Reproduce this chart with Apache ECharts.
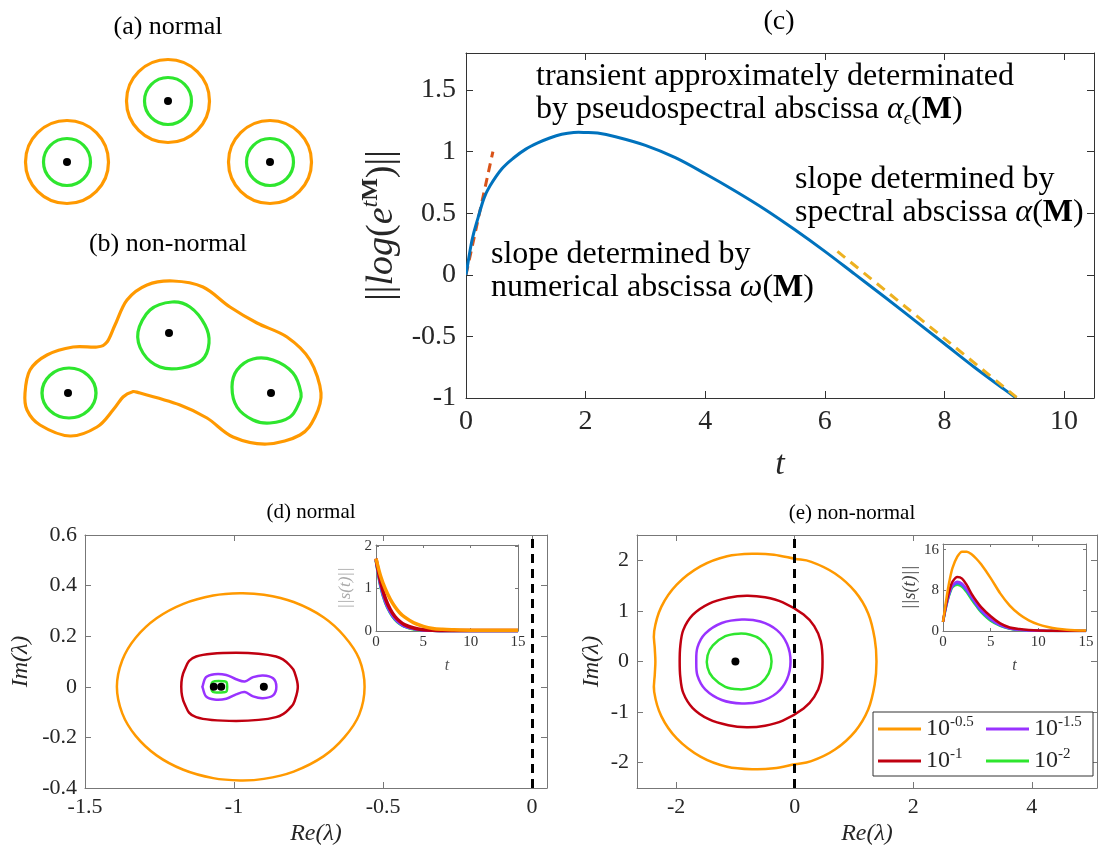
<!DOCTYPE html>
<html>
<head>
<meta charset="utf-8" />
<title>pseudospectra</title>
<script src="https://cdn.jsdelivr.net/npm/echarts@6/dist/echarts.min.js"></script>
<style>
  html, body { margin: 0; padding: 0; background: #fff; }
  #main { width: 1099px; height: 849px; }
</style>
</head>
<body>
<div id="main"></div>
<script>
// ---------- data ----------
// (a)/(b) schematic, in the sketch's own frame (x right, y down)
const aCenters = [[168, 101], [67, 162], [270, 162]];
const bOrange = [[25,393],[30,370],[47,355],[73,347],[97,347],[107,342],[115,325],[127,300],[147,285],[173,281],[203,287],[230,307],[257,323],[287,337],[310,360],[321,393],[315,417],[300,435],[267,444],[233,437],[207,418],[180,405],[140,393],[132,392],[123,397],[113,410],[97,427],[70,436],[40,425],[27,410]];
const bGreenTop = [[209,343],[205,325],[190,307],[172,302],[150,310],[138,332],[143,353],[160,367],[182,368],[202,360]];
const bGreenRight = [[301,393],[293,373],[273,360],[253,359],[237,370],[232,387],[237,407],[253,420],[270,423],[290,417],[299,403]];
const bGreenLeft = [[69, 393]];
const bDots = [[169, 333], [68, 393], [271, 393]];

// (c) norm of the propagator
const cT = [0,0.1,0.2,0.3,0.4,0.6,0.8,1.0,1.2,1.4,1.6,1.8,2.0,2.2,2.5,3.0,3.5,4.0,4.5,5.0,5.5,6.0,6.5,7.0,7.5,8.0,8.5,9.0,9.2];
const cNorm = [0,0.28,0.46,0.62,0.72,0.86,0.95,1.02,1.07,1.11,1.14,1.155,1.155,1.15,1.12,1.05,0.95,0.82,0.68,0.53,0.365,0.19,0.005,-0.18,-0.37,-0.56,-0.75,-0.93,-1.0];
const cRedT = [0, 0.45];
const cRedY = [0, 1.0];
const cYelT = [6.21, 9.22];
const cYelY = [0.19, -1.0];
const cXTicks = [0, 2, 4, 6, 8, 10];
const cYTicks = [-1, -0.5, 0, 0.5, 1, 1.5];

// (d) normal: pseudospectra contours
const dOrange = [[-0.562,0],[-0.58,0.11],[-0.63,0.20],[-0.70,0.275],[-0.80,0.335],[-0.90,0.364],[-0.98,0.37],[-1.07,0.361],[-1.17,0.328],[-1.26,0.271],[-1.33,0.194],[-1.375,0.105],[-1.393,0],[-1.375,-0.105],[-1.33,-0.194],[-1.26,-0.271],[-1.17,-0.328],[-1.07,-0.361],[-0.98,-0.37],[-0.90,-0.364],[-0.80,-0.335],[-0.70,-0.275],[-0.63,-0.20],[-0.58,-0.11]];
const dRed = [[-0.786,0],[-0.795,0.05],[-0.809,0.08],[-0.859,0.12],[-0.993,0.135],[-1.127,0.12],[-1.166,0.067],[-1.177,0],[-1.166,-0.067],[-1.127,-0.12],[-0.993,-0.135],[-0.859,-0.12],[-0.809,-0.08],[-0.795,-0.05]];
const dPurple = [[-0.858,0],[-0.869,0.034],[-0.903,0.045],[-0.936,0.038],[-0.964,0.021],[-0.993,0.03],[-1.026,0.047],[-1.066,0.05],[-1.094,0.038],[-1.105,0.004],[-1.105,-0.004],[-1.094,-0.038],[-1.066,-0.05],[-1.026,-0.047],[-0.993,-0.03],[-0.964,-0.021],[-0.936,-0.038],[-0.903,-0.045],[-0.869,-0.034]];
const dGreen = [[-1.023,0],[-1.025,0.018],[-1.035,0.022],[-1.065,0.022],[-1.074,0.016],[-1.076,0],[-1.074,-0.016],[-1.065,-0.022],[-1.035,-0.022],[-1.025,-0.018]];
const dEigs = [[-1.068,0],[-1.043,0],[-0.90,0]];
const dXTicks = [-1.5, -1, -0.5, 0];
const dYTicks = [-0.4, -0.2, 0, 0.2, 0.4, 0.6];

// (d) inset ||s(t)||
const dInT = [0,0.5,1,1.5,2,2.5,3,4,5,6,7,8,10,12,15];
const dInOrange = [1.70,1.28,0.98,0.75,0.57,0.43,0.33,0.19,0.11,0.06,0.04,0.03,0.02,0.02,0.02];
const dInRed = [1.70,1.14,0.76,0.51,0.34,0.23,0.15,0.07,0.03,0.015,0.01,0.01,0.01,0.01,0.01];
const dInPurple = [1.68,1.08,0.70,0.46,0.30,0.19,0.12,0.05,0.02,0.01,0,0,0,0,0];
const dInBlue = [1.66,1.05,0.67,0.44,0.28,0.18,0.11,0.05,0.02,0.01,0,0,0,0,0];
const dInGreen = [1.65,1.03,0.66,0.43,0.27,0.17,0.11,0.04,0.02,0.01,0,0,0,0,0];
const dInXTicks = [0, 5, 10, 15];
const dInYTicks = [0, 1, 2];

// (e) non-normal: pseudospectra contours
const eOrange = [[1.38,0],[1.35,0.45],[1.24,0.95],[1.02,1.38],[0.68,1.74],[0.28,1.97],[0,2.03],[-0.35,2.11],[-0.69,2.13],[-1.14,2.08],[-1.59,1.88],[-1.99,1.52],[-2.25,1.08],[-2.37,0.6],[-2.36,0.26],[-2.35,0],[-2.36,-0.26],[-2.37,-0.6],[-2.25,-1.08],[-1.99,-1.52],[-1.59,-1.88],[-1.14,-2.08],[-0.69,-2.13],[-0.35,-2.11],[0,-2.03],[0.28,-1.97],[0.68,-1.74],[1.02,-1.38],[1.24,-0.95],[1.35,-0.45]];
const eRed = [[0.47,0],[0.44,0.40],[0.33,0.70],[0.15,0.93],[-0.20,1.17],[-0.50,1.27],[-0.81,1.30],[-1.12,1.26],[-1.45,1.14],[-1.72,0.92],[-1.88,0.62],[-1.93,0.30],[-1.94,0],[-1.93,-0.30],[-1.88,-0.62],[-1.72,-0.92],[-1.45,-1.14],[-1.12,-1.26],[-0.81,-1.30],[-0.50,-1.27],[-0.20,-1.17],[0.15,-0.93],[0.33,-0.70],[0.44,-0.40]];
const ePurple = [[-0.07,0],[-0.13,0.35],[-0.30,0.62],[-0.58,0.79],[-0.89,0.83],[-1.23,0.76],[-1.51,0.55],[-1.64,0.28],[-1.66,0],[-1.64,-0.28],[-1.51,-0.55],[-1.23,-0.76],[-0.89,-0.83],[-0.58,-0.79],[-0.30,-0.62],[-0.13,-0.35]];
const eGreen = [[-0.39,0],[-0.44,0.24],[-0.58,0.44],[-0.75,0.53],[-0.95,0.55],[-1.17,0.50],[-1.38,0.32],[-1.47,0.12],[-1.47,-0.12],[-1.38,-0.32],[-1.17,-0.50],[-0.95,-0.55],[-0.75,-0.53],[-0.58,-0.44],[-0.44,-0.24]];
const eEigs = [[-1.0, 0]];
const eXTicks = [-2, 0, 2, 4];
const eYTicks = [-2, -1, 0, 1, 2];

// (e) inset ||s(t)||
const eInT = [0,0.25,0.5,0.75,1,1.5,2,2.5,3,3.5,4,5,6,7,8,9,10,11,12,13,15];
const eInOrange = [1.8,5.0,8.0,10.5,12.4,14.6,15.6,15.6,15.1,14.2,13.1,10.4,7.4,5.0,3.3,2.1,1.3,0.8,0.45,0.25,0.08];
const eInRed = [1.8,4.5,6.8,8.5,9.7,10.6,10.3,9.0,7.3,5.9,4.7,2.9,1.5,0.7,0.4,0.2,0.08,0.04,0.02,0.01,0];
const eInPurple = [1.8,4.3,6.4,8.0,9.0,9.7,9.3,8.2,6.8,5.4,4.2,2.4,1.2,0.55,0.25,0.1,0.05,0.02,0,0,0];
const eInBlue = [1.8,4.2,6.2,7.8,8.8,9.4,9.0,7.9,6.5,5.1,3.9,2.2,1.1,0.5,0.22,0.09,0.04,0.02,0,0,0];
const eInGreen = [1.8,4.1,6.1,7.6,8.6,9.1,8.7,7.6,6.2,4.9,3.7,2.0,1.0,0.45,0.2,0.08,0.03,0.01,0,0,0];
const eInXTicks = [0, 5, 10, 15];
const eInYTicks = [0, 8, 16];

const epsNames = ['10^-0.5', '10^-1', '10^-1.5', '10^-2'];

// ---------- styling ----------
const FONT = 'Liberation Serif';
const ORANGE = '#FF9900', RED = '#C00010', PURPLE = '#9933FF', GREEN = '#2EE62E', BLUE = '#3366FF';

function pairs(xs, ys) { return xs.map((x, i) => [x, ys[i]]); }

function axis(gridIndex, min, max, ticks, o) {
  return {
    type: 'value', gridIndex: gridIndex, min: min, max: max,
    position: o.position, inverse: !!o.inverse,
    name: o.name || '', nameLocation: 'middle', nameGap: o.nameGap || 0, nameRotate: o.nameRotate,
    nameTextStyle: o.nameStyle,
    axisLine: { show: true, onZero: false, lineStyle: { color: o.line, width: 1 } },
    axisTick: { show: true, inside: true, length: o.tickLen, customValues: ticks, lineStyle: { color: o.line } },
    axisLabel: { show: !o.mirror, customValues: ticks, fontFamily: FONT, fontSize: o.fontSize, color: o.labelColor, margin: o.margin },
    splitLine: { show: false }
  };
}

// smooth curve through the data points (closed contour or open curve):
// the axes place every point, then one bezier path runs through them
function curve(x, y, pts, color, width, closed, dash) {
  return {
    type: 'custom', coordinateSystem: 'cartesian2d', xAxisIndex: x, yAxisIndex: y,
    data: pts, encode: { x: 0, y: 1 }, silent: true, animation: false, clip: true,
    itemStyle: { color: color },
    renderItem: function (params, api) {
      if (params.dataIndex !== 0) return null;
      const p = pts.map(q => api.coord(q));
      const n = p.length, segs = closed ? n : n - 1;
      const f = v => v.toFixed(2);
      let d = 'M' + f(p[0][0]) + ' ' + f(p[0][1]);
      for (let i = 0; i < segs; i++) {
        const p0 = p[closed ? (i - 1 + n) % n : Math.max(i - 1, 0)];
        const p1 = p[i], p2 = p[(i + 1) % n];
        const p3 = p[closed ? (i + 2) % n : Math.min(i + 2, n - 1)];
        d += ' C' + f(p1[0] + (p2[0] - p0[0]) / 6) + ' ' + f(p1[1] + (p2[1] - p0[1]) / 6) +
             ' ' + f(p2[0] - (p3[0] - p1[0]) / 6) + ' ' + f(p2[1] - (p3[1] - p1[1]) / 6) +
             ' ' + f(p2[0]) + ' ' + f(p2[1]);
      }
      if (closed) d += ' Z';
      return {
        type: 'path', shape: { pathData: d },
        style: { fill: 'none', stroke: color, lineWidth: width, lineJoin: 'round', lineDash: dash || null }
      };
    }
  };
}
function line(x, y, data, color, width) {
  return { type: 'line', xAxisIndex: x, yAxisIndex: y, data: data, smooth: 0.3, symbol: 'none',
    lineStyle: { color: color, width: width }, itemStyle: { color: color }, silent: true, animation: false };
}
function named(s, name) { s.name = name; return s; }
function dots(x, y, data, size) {
  return { type: 'scatter', xAxisIndex: x, yAxisIndex: y, data: data, symbol: 'circle', symbolSize: size,
    itemStyle: { color: '#000', opacity: 1 }, silent: true, animation: false, z: 5 };
}
function rings(x, y, data, size, color) {
  return { type: 'scatter', xAxisIndex: x, yAxisIndex: y, data: data, symbol: 'circle', symbolSize: size,
    itemStyle: { color: 'rgba(0,0,0,0)', borderColor: color, borderWidth: 3.2, opacity: 1 }, silent: true, animation: false };
}
function vDash(series, x) {
  series.markLine = { symbol: 'none', silent: true, animation: false, label: { show: false },
    lineStyle: { color: '#000', width: 3, type: [9, 6] }, data: [{ xAxis: x }] };
  return series;
}

const cMain = { line: '#333', tickLen: 7, fontSize: 28, labelColor: '#262626', margin: 10 };
const pMain = { line: '#777', tickLen: 6, fontSize: 22, labelColor: '#262626', margin: 8 };
const pIn = { line: '#777', tickLen: 3, fontSize: 15, labelColor: '#333', margin: 4 };
const it = (size, color) => ({ fontFamily: FONT, fontSize: size, fontStyle: 'italic', color: color || '#262626' });
const TXT = '32px "Liberation Serif"';
const mathRich = {
  i: { fontFamily: FONT, fontSize: 32, fontStyle: 'italic', lineHeight: 36 },
  sub: { fontFamily: FONT, fontSize: 18, fontStyle: 'italic', verticalAlign: 'bottom', lineHeight: 36 },
  b: { fontFamily: FONT, fontSize: 32, fontWeight: 'bold', lineHeight: 36 }
};

const chart = echarts.init(document.getElementById('main'), null, { renderer: 'canvas' });

chart.setOption({
  backgroundColor: '#fff',
  animation: false,
  grid: [
    { left: 0, top: 0, width: 330, height: 449 },
    { left: 466, top: 53, width: 628, height: 345 },
    { left: 85, top: 535, width: 462, height: 253 },
    { left: 376, top: 545, width: 142, height: 86, show: true, backgroundColor: '#fff', borderWidth: 0 },
    { left: 637, top: 535, width: 460, height: 253 },
    { left: 943, top: 544, width: 143, height: 87, show: true, backgroundColor: '#fff', borderWidth: 0 }
  ],
  xAxis: [
    { type: 'value', gridIndex: 0, min: 0, max: 330, show: false },
    axis(1, 0, 10.5, cXTicks, Object.assign({ position: 'bottom', name: 't', nameGap: 50, nameStyle: it(34) }, cMain)),
    axis(1, 0, 10.5, cXTicks, Object.assign({ position: 'top', mirror: true }, cMain)),
    axis(2, -1.5, 0.05, dXTicks, Object.assign({ position: 'bottom', name: 'Re(λ)', nameGap: 34, nameStyle: it(24) }, pMain)),
    axis(2, -1.5, 0.05, dXTicks, Object.assign({ position: 'top', mirror: true }, pMain)),
    axis(3, 0, 15, dInXTicks, Object.assign({ position: 'bottom', name: 't', nameGap: 27, nameStyle: it(16, '#555') }, pIn)),
    axis(3, 0, 15, dInXTicks, Object.assign({ position: 'top', mirror: true }, pIn)),
    axis(4, -2.66, 5.1, eXTicks, Object.assign({ position: 'bottom', name: 'Re(λ)', nameGap: 34, nameStyle: it(24) }, pMain)),
    axis(4, -2.66, 5.1, eXTicks, Object.assign({ position: 'top', mirror: true }, pMain)),
    axis(5, 0, 15, eInXTicks, Object.assign({ position: 'bottom', name: 't', nameGap: 27, nameStyle: it(16, '#444') }, pIn)),
    axis(5, 0, 15, eInXTicks, Object.assign({ position: 'top', mirror: true }, pIn))
  ],
  yAxis: [
    { type: 'value', gridIndex: 0, min: 0, max: 449, inverse: true, show: false },
    axis(1, -1, 1.8, cYTicks, Object.assign({ position: 'left', nameRotate: 90, nameGap: 60,
      name: '{n|||}{i|log}{n|(}{i|e}{si|t}{sb|M}{n|)||}',
      nameStyle: { fontFamily: FONT, color: '#262626', fontSize: 38, rich: {
        n: { fontFamily: FONT, fontSize: 38, lineHeight: 46, color: '#262626' },
        i: { fontFamily: FONT, fontSize: 38, lineHeight: 46, fontStyle: 'italic', color: '#262626' },
        si: { fontFamily: FONT, fontSize: 24, lineHeight: 46, fontStyle: 'italic', verticalAlign: 'top', color: '#262626' },
        sb: { fontFamily: FONT, fontSize: 24, lineHeight: 46, fontWeight: 'bold', verticalAlign: 'top', color: '#262626' }
      } } }, cMain)),
    axis(1, -1, 1.8, cYTicks, Object.assign({ position: 'right', mirror: true }, cMain)),
    axis(2, -0.4, 0.6, dYTicks, Object.assign({ position: 'left', nameRotate: 90, name: 'Im(λ)', nameGap: 52, nameStyle: it(24) }, pMain)),
    axis(2, -0.4, 0.6, dYTicks, Object.assign({ position: 'right', mirror: true }, pMain)),
    axis(3, 0, 2.02, dInYTicks, Object.assign({ position: 'left', nameRotate: 90, name: '||s(t)||', nameGap: 22, nameStyle: it(17, '#aaa') }, pIn)),
    axis(3, 0, 2.02, dInYTicks, Object.assign({ position: 'right', mirror: true }, pIn)),
    axis(4, -2.5, 2.5, eYTicks, Object.assign({ position: 'left', nameRotate: 90, name: 'Im(λ)', nameGap: 33, nameStyle: it(24) }, pMain)),
    axis(4, -2.5, 2.5, eYTicks, Object.assign({ position: 'right', mirror: true }, pMain)),
    axis(5, 0, 17.1, eInYTicks, Object.assign({ position: 'left', nameRotate: 90, name: '||s(t)||', nameGap: 24, nameStyle: it(18, '#444') }, pIn)),
    axis(5, 0, 17.1, eInYTicks, Object.assign({ position: 'right', mirror: true }, pIn))
  ],
  legend: {
    data: epsNames.map(n => ({ name: n, icon: 'rect' })),
    orient: 'vertical', left: 873, top: 712, width: 230, height: 62,
    itemWidth: 43, itemHeight: 3, itemGap: 6, padding: [3, 5, 3, 5],
    backgroundColor: '#fff', borderColor: '#333', borderWidth: 1, selectedMode: false,
    formatter: function (n) { return '{b|10}{s|' + n.slice(3) + '}'; },
    textStyle: { fontFamily: FONT, color: '#262626', rich: {
      b: { fontFamily: FONT, fontSize: 24, lineHeight: 28, color: '#262626' },
      s: { fontFamily: FONT, fontSize: 15, lineHeight: 28, verticalAlign: 'top', width: 30, color: '#262626' }
    } }
  },
  graphic: [
    { type: 'text', x: 168, y: 27, style: { text: '(a) normal', font: '26px "Liberation Serif"', align: 'center', verticalAlign: 'middle', fill: '#000' } },
    { type: 'text', x: 168, y: 244, style: { text: '(b) non-normal', font: '26px "Liberation Serif"', align: 'center', verticalAlign: 'middle', fill: '#000' } },
    { type: 'text', x: 779, y: 22, style: { text: '(c)', font: '28px "Liberation Serif"', align: 'center', verticalAlign: 'middle', fill: '#000' } },
    { type: 'text', x: 311, y: 512, style: { text: '(d) normal', font: '21px "Liberation Serif"', align: 'center', verticalAlign: 'middle', fill: '#000' } },
    { type: 'text', x: 852, y: 513, style: { text: '(e) non-normal', font: '21px "Liberation Serif"', align: 'center', verticalAlign: 'middle', fill: '#000' } },
    { type: 'text', x: 536, y: 77, style: { text: 'transient approximately determinated', font: TXT, verticalAlign: 'middle', fill: '#000' } },
    { type: 'text', x: 536, y: 110, style: { text: 'by pseudospectral abscissa {i|α}{sub|ϵ}({b|M})', font: TXT, verticalAlign: 'middle', fill: '#000', rich: mathRich } },
    { type: 'text', x: 795, y: 180, style: { text: 'slope determined by', font: TXT, verticalAlign: 'middle', fill: '#000' } },
    { type: 'text', x: 795, y: 213, style: { text: 'spectral abscissa {i|α}({b|M})', font: TXT, verticalAlign: 'middle', fill: '#000', rich: mathRich } },
    { type: 'text', x: 491, y: 255, style: { text: 'slope determined by', font: TXT, verticalAlign: 'middle', fill: '#000' } },
    { type: 'text', x: 491, y: 288, style: { text: 'numerical abscissa {i|ω}({b|M})', font: TXT, verticalAlign: 'middle', fill: '#000', rich: mathRich } }
  ],
  series: [
    // (a)
    rings(0, 0, aCenters, 83, ORANGE),
    rings(0, 0, aCenters, 47, GREEN),
    dots(0, 0, aCenters, 8),
    // (b)
    curve(0, 0, bOrange, ORANGE, 3.2, true),
    curve(0, 0, bGreenTop, GREEN, 3.2, true),
    curve(0, 0, bGreenRight, GREEN, 3.2, true),
    rings(0, 0, bGreenLeft, [54, 50], GREEN),
    dots(0, 0, bDots, 8),
    // (c)
    curve(1, 1, pairs(cRedT, cRedY), '#D95319', 3, false, [9, 6]),
    curve(1, 1, pairs(cT, cNorm), '#0072BD', 3, false),
    curve(1, 1, pairs(cYelT, cYelY), '#EDB120', 3, false, [10, 7]),
    // (d)
    vDash(line(3, 3, [[0, 0]], 'rgba(0,0,0,0)', 0), 0),
    curve(3, 3, dOrange, ORANGE, 2.5, true),
    curve(3, 3, dRed, RED, 2.5, true),
    curve(3, 3, dPurple, PURPLE, 2.5, true),
    curve(3, 3, dGreen, GREEN, 2.5, true),
    dots(3, 3, dEigs, 8),
    // (d) inset
    line(5, 5, pairs(dInT, dInGreen), GREEN, 3),
    line(5, 5, pairs(dInT, dInBlue), BLUE, 3),
    line(5, 5, pairs(dInT, dInPurple), PURPLE, 3),
    line(5, 5, pairs(dInT, dInRed), RED, 3.5),
    line(5, 5, pairs(dInT, dInOrange), ORANGE, 3.5),
    // (e)
    vDash(line(7, 7, [[0, 0]], 'rgba(0,0,0,0)', 0), 0),
    named(curve(7, 7, eOrange, ORANGE, 2.5, true), epsNames[0]),
    named(curve(7, 7, eRed, RED, 2.5, true), epsNames[1]),
    named(curve(7, 7, ePurple, PURPLE, 2.5, true), epsNames[2]),
    named(curve(7, 7, eGreen, GREEN, 2.5, true), epsNames[3]),
    dots(7, 7, eEigs, 8),
    // (e) inset
    line(9, 9, pairs(eInT, eInGreen), GREEN, 2.5),
    line(9, 9, pairs(eInT, eInBlue), BLUE, 2.5),
    line(9, 9, pairs(eInT, eInPurple), PURPLE, 2.5),
    line(9, 9, pairs(eInT, eInRed), RED, 2.5),
    line(9, 9, pairs(eInT, eInOrange), ORANGE, 2.5)
  ]
});
</script>
</body>
</html>
